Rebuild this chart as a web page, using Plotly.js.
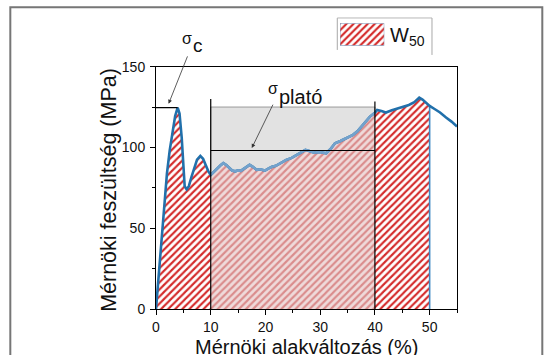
<!DOCTYPE html>
<html>
<head>
<meta charset="utf-8">
<script src="https://cdn.plot.ly/plotly-3.0.1.min.js"></script>
<style>html,body{margin:0;padding:0;background:#fff;}#chart{width:546px;height:355px;}</style>
</head>
<body>
<div id="chart"></div>
<script>
// ---- data ----
const strain = [0, 0.5, 1, 1.5, 2, 2.5, 3, 3.5, 3.96, 4.3, 4.7, 5.0, 5.24, 5.6, 6, 6.5, 7, 7.5, 8.1, 8.6, 9.1, 9.6, 10,
  10.6, 11.2, 11.8, 12.3, 12.9, 13.5, 13.9, 14.5, 15.0, 15.5, 16.0, 16.6, 17.1, 17.7, 18.4, 19.0, 19.9, 20.6, 21.2, 21.9,
  22.8, 23.8, 24.8, 25.7, 26.5, 27.3, 28.0, 28.9, 29.9, 31.1, 31.9, 32.7, 33.7, 34.7, 35.4, 36.0, 36.8, 37.5, 38.3, 39.1,
  40, 40.4, 41.2, 42, 43.1, 44.2, 45.2, 46.2, 47.2, 48.1, 48.7, 49.4, 50, 50.9, 51.9, 53, 54, 55];
const stress = [0, 22, 45, 66, 84, 98, 110, 119.5, 124.7, 121, 106, 87, 76, 74, 76, 82, 88, 92.5, 94.8, 93, 89, 85, 83,
  85, 87.5, 89, 90.3, 89, 87, 85.7, 85.2, 85.8, 85.5, 86.5, 88.2, 89.2, 88, 86.1, 86.5, 85.7, 87, 88, 88.6,
  90.2, 92.3, 93.5, 95.4, 96.8, 98.5, 97.8, 96.8, 97.2, 96.4, 99, 102.6, 104, 105.7, 106.5, 107.8, 110, 112.9, 116, 119.1,
  121.5, 123.2, 122.5, 121.6, 123, 124.3, 125.2, 126.3, 128, 130.8, 129.6, 127.5, 125.7, 123.8, 121.6, 118.5, 116, 112.9];

const xTicks = [0, 10, 20, 30, 40, 50];
const yTicks = [0, 50, 100, 150];

const sigmaC = 124.7;       // compressive peak stress
const sigmaCStrain = 3.96;
const sigmaPlateau = 98.1;  // plateau stress
const plateauStart = 10, plateauEnd = 40;
const plateauBoxTop = 125;
const plateauLineTops = [130, 128.5];
const w50End = 50;

// ---- helpers ----
function seg(a, b) {
  const xs = [], ys = [];
  strain.forEach((x, i) => { if (x >= a && x <= b) { xs.push(x); ys.push(stress[i]); } });
  return {x: xs, y: ys};
}
const all = seg(0, w50End);
const mid = seg(plateauStart, plateauEnd);
const stressAtEnd = stress[strain.indexOf(w50End)];

const hatchRed = {shape: '/', fgcolor: '#d42b2b', bgcolor: '#ffffff', size: 5, solidity: 0.42};
const hatchMid = {shape: '/', fgcolor: '#da8c8c', bgcolor: '#efdada', size: 5, solidity: 0.42};

const traces = [
  {x: all.x, y: all.y, type: 'scatter', mode: 'lines', fill: 'tozeroy', fillpattern: hatchRed,
   fillcolor: '#ffffff', line: {width: 0, color: 'rgba(0,0,0,0)'}, hoverinfo: 'skip', showlegend: false},
  {x: mid.x, y: mid.y, type: 'scatter', mode: 'lines', fill: 'tozeroy', fillpattern: hatchMid,
   fillcolor: '#efdada', line: {width: 0, color: 'rgba(0,0,0,0)'}, hoverinfo: 'skip', showlegend: false},
  {x: [w50End, w50End], y: [0, stressAtEnd], type: 'scatter', mode: 'lines',
   line: {width: 1.6, color: '#3f8ac4'}, hoverinfo: 'skip', showlegend: false},
  {x: strain, y: stress, type: 'scatter', mode: 'lines', line: {width: 2.6, color: '#2170ab'},
   hoverinfo: 'skip', showlegend: false},
  {x: mid.x, y: mid.y, type: 'scatter', mode: 'lines', line: {width: 2.6, color: '#73a2cc'},
   hoverinfo: 'skip', showlegend: false},
  // legend patch
  {x: [0, 1, 1, 0, 0], y: [0, 0, 1, 1, 0], xaxis: 'x2', yaxis: 'y2', type: 'scatter', mode: 'lines',
   fill: 'toself', fillpattern: hatchRed, fillcolor: '#ffffff', line: {width: 1, color: '#7f9fc0'},
   hoverinfo: 'skip', showlegend: false}
];

const font = {family: '"Liberation Sans", Arial, sans-serif', color: '#111'};
const axisCommon = {
  showline: true, linecolor: '#000', linewidth: 1, mirror: true, showgrid: false, zeroline: false,
  ticks: 'outside', ticklen: 5, tickwidth: 1, tickcolor: '#000',
  tickfont: {family: font.family, size: 14, color: '#111'}
};

const blackLine = {color: '#000', width: 1.2};
const shapes = [
  {type: 'rect', xref: 'x', yref: 'y', x0: plateauStart, x1: plateauEnd, y0: 0, y1: plateauBoxTop,
   fillcolor: '#e2e2e2', line: {color: '#9a9a9a', width: 1}, layer: 'below'},
  {type: 'line', xref: 'x', yref: 'y', x0: plateauStart, x1: plateauStart, y0: 0, y1: plateauLineTops[0], line: blackLine},
  {type: 'line', xref: 'x', yref: 'y', x0: plateauEnd, x1: plateauEnd, y0: 0, y1: plateauLineTops[1], line: blackLine},
  {type: 'line', xref: 'x', yref: 'y', x0: plateauStart, x1: plateauEnd, y0: sigmaPlateau, y1: sigmaPlateau, line: blackLine},
  {type: 'line', xref: 'x', yref: 'y', x0: 0, x1: sigmaCStrain, y0: sigmaC, y1: sigmaC, line: blackLine},
  // outer figure frame
  {type: 'rect', xref: 'paper', yref: 'paper', x0: -0.484, x1: 1.2834, y0: -0.3, y1: 0.9764,
   line: {color: '#767676', width: 2}, fillcolor: 'rgba(0,0,0,0)'},
  // legend box
  {type: 'line', xref: 'paper', yref: 'paper', x0: 0.6023, x1: 0.6023, y0: 0.8384, y1: 0.9418, line: {color: '#a8a8a8', width: 1}},
  {type: 'line', xref: 'paper', yref: 'paper', x0: 0.6023, x1: 0.9169, y0: 0.9418, y1: 0.9418, line: {color: '#b8b8b8', width: 1}},
  {type: 'line', xref: 'paper', yref: 'paper', x0: 0.9169, x1: 0.9169, y0: 0.8222, y1: 0.9418, line: {color: '#a8a8a8', width: 1}}
];

const arrowStyle = {showarrow: true, arrowhead: 2, arrowsize: 1, arrowwidth: 0.8, arrowcolor: '#333',
  axref: 'x', ayref: 'y', text: '', xref: 'x', yref: 'y'};
const txt = (size) => ({family: font.family, size: size, color: '#111'});
const pa = (o) => Object.assign({xref: 'paper', yref: 'paper', xanchor: 'center', yanchor: 'middle', showarrow: false}, o);
const annotations = [
  Object.assign({}, arrowStyle, {x: 2.3, y: 127, ax: 5.86, ay: 157.3}),
  Object.assign({}, arrowStyle, {x: 17.5, y: 99.6, ax: 21.5, ay: 127.4}),
  pa({x: 0.1037, y: 0.8755, text: 'σ', font: txt(16)}),
  pa({x: 0.1405, y: 0.8513, text: 'c', font: txt(19)}),
  {xref: 'x', yref: 'y', x: 21.34, y: 136.5, text: 'σ', showarrow: false, font: txt(16)},
  {xref: 'x', yref: 'y', x: 26.37, y: 131.5, text: 'plató', showarrow: false, font: txt(20)},
  pa({x: 0.772, y: 0.8804, xanchor: 'left', text: 'W<sub>50</sub>', font: txt(20)}),
  // axis titles
  pa({x: 0.5, y: -0.08, yanchor: 'top', text: 'Mérnöki alakváltozás (%)', font: txt(20)}),
  pa({x: -0.156, y: 0.3857, textangle: -90, text: 'Mérnöki feszültség (MPa)', font: txt(21.5)})
];

const layout = {
  width: 546, height: 355,
  margin: {l: 156, r: 89, t: 0, b: 45.7},
  paper_bgcolor: '#ffffff', plot_bgcolor: 'rgba(0,0,0,0)',
  font: font,
  showlegend: false,
  xaxis: Object.assign({}, axisCommon, {
    range: [0, 55], tickvals: xTicks, ticktext: xTicks.map(String),
    minor: {dtick: 5, tick0: 0, ticks: 'outside', ticklen: 3, tickcolor: '#000'}
  }),
  yaxis: Object.assign({}, axisCommon, {
    domain: [0, 0.7843], range: [0, 150], tickvals: yTicks, ticktext: yTicks.map(String),
    ticklabelstandoff: 2,
    minor: {dtick: 25, tick0: 0, ticks: 'outside', ticklen: 3, tickcolor: '#000'}
  }),
  xaxis2: {domain: [0.6113, 0.7585], range: [0, 1], visible: false, fixedrange: true, anchor: 'y2'},
  yaxis2: {domain: [0.8523, 0.9247], range: [0, 1], visible: false, fixedrange: true, anchor: 'x2'},
  shapes: shapes,
  annotations: annotations
};

Plotly.newPlot('chart', traces, layout, {displayModeBar: false, staticPlot: true});
</script>
</body>
</html>
